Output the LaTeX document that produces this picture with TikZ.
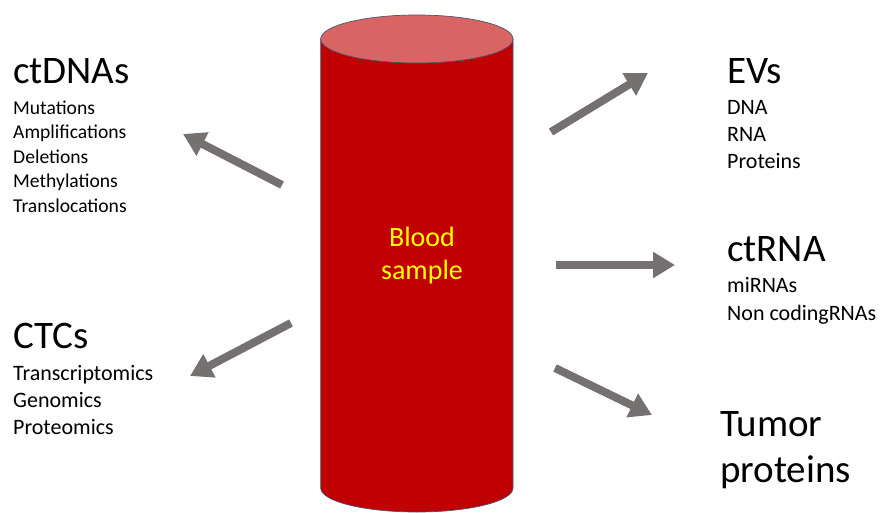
\documentclass[tikz,border=0pt]{standalone}
\usepackage{fontspec}
\setmainfont{Carlito}
\usetikzlibrary{arrows.meta}
\definecolor{bodyred}{HTML}{C00000}
\definecolor{topred}{HTML}{D96464}
\definecolor{edgec}{HTML}{4A5570}
\definecolor{arrowgray}{HTML}{767171}
\definecolor{bloodyellow}{HTML}{FFFF00}
\begin{document}
\begin{tikzpicture}[x=1pt,y=-1pt,
  heading/.style={inner sep=0pt, anchor=base west, font=\fontsize{39}{44}\selectfont},
  item/.style={inner sep=0pt, anchor=base west, font=\fontsize{22}{26}\selectfont},
  itemsmall/.style={inner sep=0pt, anchor=base west, font=\fontsize{19.6}{24}\selectfont},
  bigarrow/.style={draw=arrowgray, line width=8pt, -{Triangle[width=25pt,length=22pt]}},
  cyledge/.style={draw=edgec, line width=0.7pt}]
\useasboundingbox (0,0) rectangle (880,513);

% cylinder (blood sample tube)
\path[fill=bodyred, cyledge] (513,39) -- (513,488)
  arc[start angle=0, end angle=180, x radius=96.15, y radius=24] -- (320.7,39) -- cycle;
\path[fill=topred, cyledge] (416.85,39) ellipse [x radius=96.15, y radius=24];
\node[name=blood, align=center, text=bloodyellow, inner sep=0pt,
  font=\fontsize{28}{33}\selectfont] at (422,256) {Blood\\sample};

% ctDNAs
\node[heading, name=ctdna] at (13,84) {ctDNAs};
\node[itemsmall, name=ctd1] at (13,114.5) {Mutations};
\node[itemsmall, name=ctd2] at (13,139) {Amplifications};
\node[itemsmall, name=ctd3] at (13,163.5) {Deletions};
\node[itemsmall, name=ctd4] at (13,188) {Methylations};
\node[itemsmall, name=ctd5] at (13,212.5) {Translocations};

% CTCs
\node[heading, name=ctc] at (13,348) {CTCs};
\node[item, name=ctc1] at (13,380.7) {Transcriptomics};
\node[item, name=ctc2] at (13,407.3) {Genomics};
\node[item, name=ctc3] at (13,434) {Proteomics};

% EVs
\node[heading, name=ev] at (727,84) {EVs};
\node[item, name=ev1] at (727,115) {DNA};
\node[item, name=ev2] at (727,141.5) {RNA};
\node[item, name=ev3] at (727,168) {Proteins};

% ctRNA
\node[heading, name=ctrna] at (727,261) {ctRNA};
\node[item, name=ctr1] at (727,292) {miRNAs};
\node[item, name=ctr2] at (727,320) {Non codingRNAs};

% Tumor proteins
\node[heading, name=tum1] at (720,436) {Tumor};
\node[heading, name=tum2] at (720,482) {proteins};

% arrows
\coordinate (a1s) at (282,185);
\coordinate (a1e) at (183,134);
\coordinate (a2s) at (291,323);
\coordinate (a2e) at (190,376);
\coordinate (a3s) at (551,132);
\coordinate (a3e) at (648,73);
\coordinate (a4s) at (556,265);
\coordinate (a4e) at (675,265);
\coordinate (a5s) at (555,368);
\coordinate (a5e) at (652,415);
\draw[bigarrow] (a1s) -- (a1e);
\draw[bigarrow] (a2s) -- (a2e);
\draw[bigarrow] (a3s) -- (a3e);
\draw[bigarrow] (a4s) -- (a4e);
\draw[bigarrow] (a5s) -- (a5e);
\end{tikzpicture}
\end{document}
